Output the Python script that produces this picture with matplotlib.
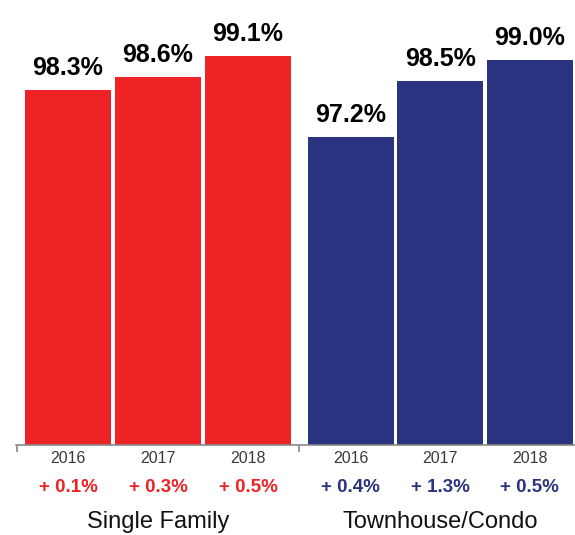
import matplotlib
matplotlib.use("Agg")
import matplotlib.pyplot as plt
import numpy as np

plt.rcParams['font.family'] = ['Liberation Sans', 'DejaVu Sans']

# Sale-to-list price ratio by year and property type
years = ['2016', '2017', '2018']
groups = ['Single Family', 'Townhouse/Condo']
single_family = [98.3, 98.6, 99.1]
townhouse = [97.2, 98.5, 99.0]
sf_change = ['+ 0.1%', '+ 0.3%', '+ 0.5%']
th_change = ['+ 0.4%', '+ 1.3%', '+ 0.5%']

red = '#EE2326'
navy = '#2B3480'

W, H = 575, 535
fig = plt.figure(figsize=(W / 100, H / 100), dpi=100)
ax = fig.add_axes([16 / W, 90 / H, (W - 16) / W, 445 / H])

x_sf = np.arange(3)
x_th = np.arange(3) * 0.995 + 3.14
width = 0.955
base = 90

ax.bar(x_sf, np.array(single_family) - base, width, bottom=base, color=red)
ax.bar(x_th, np.array(townhouse) - base, width, bottom=base, color=navy)

ax.set_xlim(-0.578, -0.578 + (W - 16) / 90)
ax.set_ylim(base, base + 445 / 42.8)

for xs, vals, chg, c in [(x_sf, single_family, sf_change, red),
                         (x_th, townhouse, th_change, navy)]:
    for x, v, ch, yr in zip(xs, vals, chg, years):
        ax.annotate(f'{v:.1f}%', (x, v), xytext=(0, 15), textcoords='offset pixels',
                    ha='center', va='baseline', fontsize=18, fontweight='bold')
        ax.text(x, -18 / 445, yr, transform=ax.get_xaxis_transform(),
                ha='center', va='baseline', fontsize=11.5, color='#3a3a3a')
        ax.text(x, -47.5 / 445, ch, transform=ax.get_xaxis_transform(),
                ha='center', va='baseline', fontsize=13.5, fontweight='bold', color=c)

for xc, name in zip([x_sf.mean(), x_th.mean()], groups):
    ax.text(xc, -83 / 445, name, transform=ax.get_xaxis_transform(),
            ha='center', va='baseline', fontsize=17, color='#111111')

# Baseline with group divider ticks
for s in ['top', 'right', 'left']:
    ax.spines[s].set_visible(False)
ax.spines['bottom'].set_color('#888888')
ax.spines['bottom'].set_linewidth(1.2)
ax.set_yticks([])
ax.set_xticks([-0.572, 2.563])
ax.set_xticklabels([])
ax.tick_params(axis='x', length=5, width=1.2, color='#888888', direction='out')

fig.savefig('out.png', dpi=100)
